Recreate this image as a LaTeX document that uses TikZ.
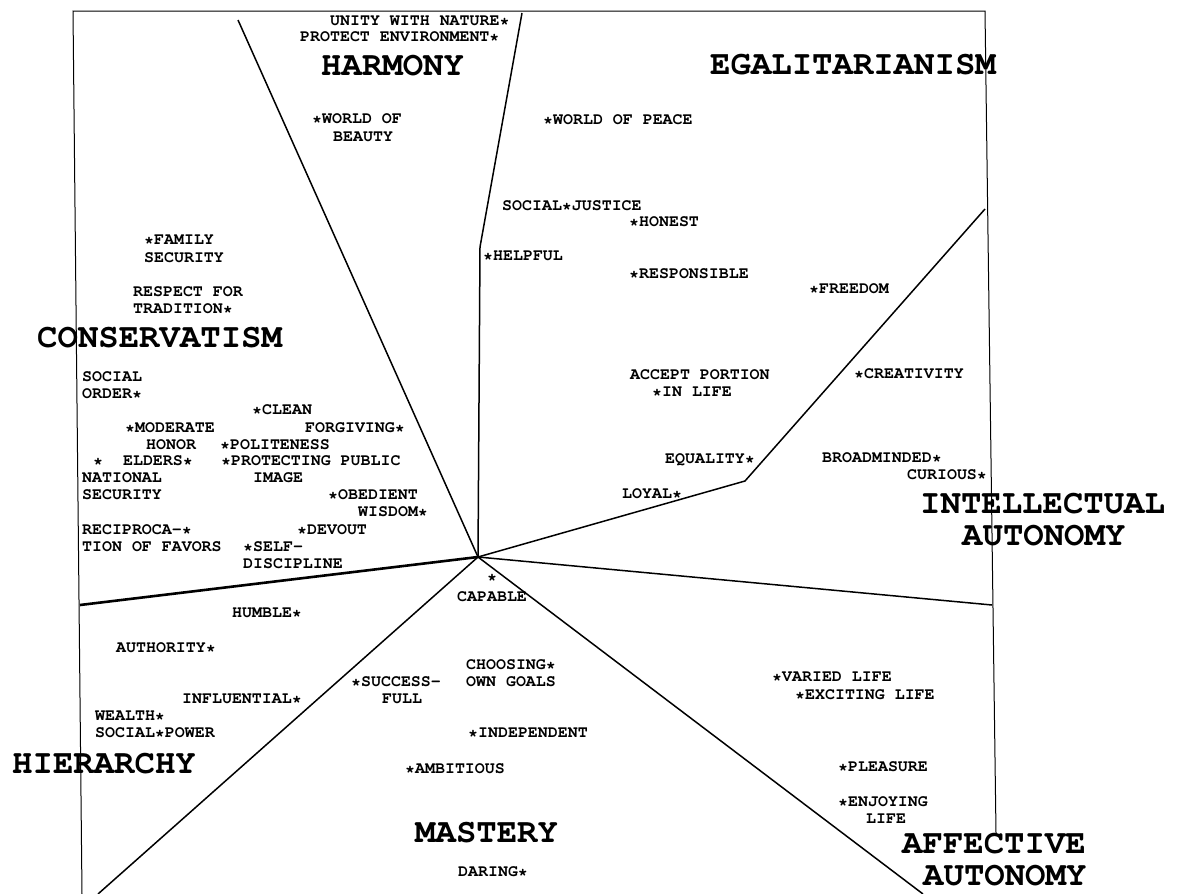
\documentclass[tikz,border=0pt]{standalone}
\usepackage[T1]{fontenc}
\renewcommand{\familydefault}{pcr}
\usetikzlibrary{calc}

\begin{document}
\begin{tikzpicture}[x=1pt,y=-1pt]
        \tikzstyle{val}=[anchor=west,inner sep=0pt,font=\fontsize{16.6}{16.6}\selectfont\bfseries,text height=9.4pt,text depth=0pt]
        \tikzstyle{region}=[anchor=west,inner sep=0pt,font=\fontsize{34}{34}\selectfont\bfseries,text height=19.4pt,text depth=0pt]
        \tikzstyle{frame}=[line width=1pt]
        \tikzstyle{divide}=[line width=1.5pt]
        \useasboundingbox (0,0) rectangle (1178,894);
        % frame and dividing lines
        \coordinate (c) at (478,557);
        \coordinate (f_1) at (73,11);
        \coordinate (f_2) at (985,11);
        \coordinate (f_3) at (82,894);
        \coordinate (f_4) at (996,833);
        \coordinate (e_1) at (238,20);
        \coordinate (e_2) at (480,247);
        \coordinate (e_3) at (522,13);
        \coordinate (e_4) at (745,481);
        \coordinate (e_5) at (985,209);
        \coordinate (e_6) at (992,605);
        \coordinate (e_7) at (923,894);
        \coordinate (e_8) at (98,894);
        \coordinate (e_9) at (80,605);
        \draw[frame] (f_3) -- (f_1) -- (f_2) -- (f_4);
        \draw[divide] (c) -- (e_1);
        \draw[divide] (c) -- (e_2) -- (e_3);
        \draw[divide] (c) -- (e_4) -- (e_5);
        \draw[divide] (c) -- (e_6);
        \draw[divide] (c) -- (e_7);
        \draw[divide] (c) -- (e_8);
        \draw[divide,line width=2.6pt] (c) -- (e_9);
        % region names
        \node[region] (r_har) at (321,66) {HARMONY};
        \node[region] (r_ega) at (710,65) {EGALITARIANISM};
        \node[region] (r_con) at (37,338) {CONSERVATISM};
        \node[region] (r_int) at (920,504) {INTELLECTUAL};
        \node[region] (r_int2) at (962,536) {AUTONOMY};
        \node[region] (r_hie) at (12,764) {HIERARCHY};
        \node[region] (r_mas) at (415,833) {MASTERY};
        \node[region] (r_aff) at (902,844) {AFFECTIVE};
        \node[region] (r_aff2) at (923,876) {AUTONOMY};
        % values
        \node[val] (v_unity) at (330,21) {UNITY WITH NATURE*};
        \node[val] (v_protect) at (300,37) {PROTECT ENVIRONMENT*};
        \node[val] (v_beauty) at (312,119) {*WORLD OF};
        \node[val] (v_beauty2) at (333,137) {BEAUTY};
        \node[val] (v_peace) at (543,120) {*WORLD OF PEACE};
        \node[val] (v_justice) at (502,206) {SOCIAL*JUSTICE};
        \node[val] (v_honest) at (629,222) {*HONEST};
        \node[val] (v_helpful) at (483,256) {*HELPFUL};
        \node[val] (v_respons) at (629,274) {*RESPONSIBLE};
        \node[val] (v_freedom) at (809,289) {*FREEDOM};
        \node[val] (v_family) at (144,240) {*FAMILY};
        \node[val] (v_family2) at (144,258) {SECURITY};
        \node[val] (v_trad) at (133,292) {RESPECT FOR};
        \node[val] (v_trad2) at (133,309) {TRADITION*};
        \node[val] (v_order) at (82,377) {SOCIAL};
        \node[val] (v_order2) at (82,394) {ORDER*};
        \node[val] (v_clean) at (252,410) {*CLEAN};
        \node[val] (v_moderate) at (125,428) {*MODERATE};
        \node[val] (v_forgiving) at (305,428) {FORGIVING*};
        \node[val] (v_honor) at (146,445) {HONOR};
        \node[val] (v_polite) at (220,445) {*POLITENESS};
        \node[val] (v_elders) at (93,461) {*\ \ ELDERS*};
        \node[val] (v_image) at (221,461) {*PROTECTING PUBLIC};
        \node[val] (v_image2) at (253,478) {IMAGE};
        \node[val] (v_nation) at (82,478) {NATIONAL};
        \node[val] (v_nation2) at (82,495) {SECURITY};
        \node[val] (v_obedient) at (328,495) {*OBEDIENT};
        \node[val] (v_wisdom) at (358,512) {WISDOM*};
        \node[val] (v_recip) at (82,530) {RECIPROCA-*};
        \node[val] (v_recip2) at (82,547) {TION OF FAVORS};
        \node[val] (v_devout) at (297,530) {*DEVOUT};
        \node[val] (v_self) at (243,547) {*SELF-};
        \node[val] (v_self2) at (243,564) {DISCIPLINE};
        \node[val] (v_accept) at (630,375) {ACCEPT PORTION};
        \node[val] (v_accept2) at (652,392) {*IN LIFE};
        \node[val] (v_creat) at (854,374) {*CREATIVITY};
        \node[val] (v_equal) at (665,459) {EQUALITY*};
        \node[val] (v_broad) at (822,458) {BROADMINDED*};
        \node[val] (v_curious) at (907,475) {CURIOUS*};
        \node[val] (v_loyal) at (622,494) {LOYAL*};
        \node[val] (v_capable) at (487,577) {*};
        \node[val] (v_capable2) at (457,597) {CAPABLE};
        \node[val] (v_humble) at (232,613) {HUMBLE*};
        \node[val] (v_author) at (116,648) {AUTHORITY*};
        \node[val] (v_goals) at (466,665) {CHOOSING*};
        \node[val] (v_goals2) at (466,682) {OWN GOALS};
        \node[val] (v_success) at (351,682) {*SUCCESS-};
        \node[val] (v_success2) at (382,699) {FULL};
        \node[val] (v_influ) at (182,699) {INFLUENTIAL*};
        \node[val] (v_wealth) at (95,716) {WEALTH*};
        \node[val] (v_power) at (95,733) {SOCIAL*POWER};
        \node[val] (v_indep) at (468,733) {*INDEPENDENT};
        \node[val] (v_ambit) at (405,769) {*AMBITIOUS};
        \node[val] (v_daring) at (458,872) {DARING*};
        \node[val] (v_varied) at (772,677) {*VARIED LIFE};
        \node[val] (v_exciting) at (795,695) {*EXCITING LIFE};
        \node[val] (v_pleasure) at (838,767) {*PLEASURE};
        \node[val] (v_enjoy) at (838,802) {*ENJOYING};
        \node[val] (v_enjoy2) at (866,819) {LIFE};
\end{tikzpicture}
\end{document}
